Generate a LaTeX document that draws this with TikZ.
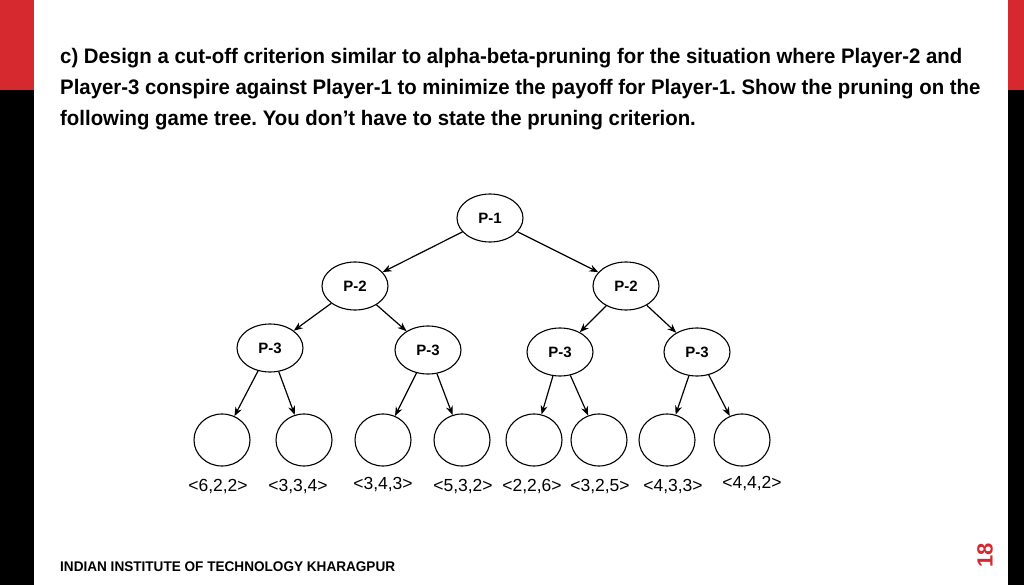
\documentclass[tikz,border=0pt]{standalone}
\usepackage{fontspec}
\setmainfont{Liberation Sans}
\newfontfamily\narrowf[FakeStretch=0.97]{Liberation Sans}
\usetikzlibrary{shapes.geometric,arrows.meta}
\definecolor{redbar}{RGB}{214,40,47}
\frenchspacing
\begin{document}
\begin{tikzpicture}[x=1pt,y=-1pt,
  pnode/.style={draw,ellipse,line width=1.1pt,minimum width=66pt,minimum height=48pt,inner sep=0pt,font=\bfseries\fontsize{15}{15}\selectfont},
  leaf/.style={draw,ellipse,line width=1.1pt,minimum width=56pt,minimum height=52pt,inner sep=0pt},
  lbl/.style={font=\fontsize{17.5}{17.5}\selectfont,inner sep=0pt},
  edge/.style={line width=1.2pt,-{Stealth[length=9pt,width=7pt]}},
  title/.style={anchor=west,inner sep=0pt,font=\narrowf\bfseries\fontsize{21}{21}\selectfont}]
\useasboundingbox (0,0) rectangle (1024,585);
\fill[black] (0,0) rectangle (34,585);
\fill[redbar] (0,0) rectangle (34,90);
\fill[black] (1008,0) rectangle (1024,585);
\fill[redbar] (1008,0) rectangle (1024,90);
\node[title] (t1) at (60,58) {c) Design a cut-off criterion similar to alpha-beta-pruning for the situation where Player-2 and};
\node[title] (t2) at (60,89) {Player-3 conspire against Player-1 to minimize the payoff for Player-1. Show the pruning on the};
\node[title] (t3) at (60,120) {following game tree. You don’t have to state the pruning criterion.};
\node[anchor=west,inner sep=0pt,font=\narrowf\bfseries\fontsize{14}{14}\selectfont] (foot) at (60,567) {INDIAN INSTITUTE OF TECHNOLOGY KHARAGPUR};
\node[rotate=90,inner sep=0pt,text=redbar,font=\bfseries\fontsize{22}{22}\selectfont] (pg) at (985,555) {18};

\node[pnode] (p1) at (490,218) {P-1};
\node[pnode] (p2a) at (355,286) {P-2};
\node[pnode] (p2b) at (626,286) {P-2};
\node[pnode] (p3a) at (270,348) {P-3};
\node[pnode] (p3b) at (428,350) {P-3};
\node[pnode] (p3c) at (560,352) {P-3};
\node[pnode] (p3d) at (697,352) {P-3};
\foreach \n/\x in {1/222,2/304,3/383,4/462,5/534,6/599,7/667,8/742}
  \node[leaf] (l\n) at (\x,440) {};
\node[lbl] (v1) at (218,487) {<6,2,2>};
\node[lbl] (v2) at (298,487) {<3,3,4>};
\node[lbl] (v3) at (383,485) {<3,4,3>};
\node[lbl] (v4) at (463,487) {<5,3,2>};
\node[lbl] (v5) at (532,487) {<2,2,6>};
\node[lbl] (v6) at (600,487) {<3,2,5>};
\node[lbl] (v7) at (673,487) {<4,3,3>};
\node[lbl] (v8) at (752,484) {<4,4,2>};

\draw[edge] (p1) -- (p2a);
\draw[edge] (p1) -- (p2b);
\draw[edge] (p2a) -- (p3a);
\draw[edge] (p2a) -- (p3b);
\draw[edge] (p2b) -- (p3c);
\draw[edge] (p2b) -- (p3d);
\draw[edge] (p3a) -- (l1);
\draw[edge] (p3a) -- (l2);
\draw[edge] (p3b) -- (l3);
\draw[edge] (p3b) -- (l4);
\draw[edge] (p3c) -- (l5);
\draw[edge] (p3c) -- (l6);
\draw[edge] (p3d) -- (l7);
\draw[edge] (p3d) -- (l8);
\end{tikzpicture}
\end{document}
